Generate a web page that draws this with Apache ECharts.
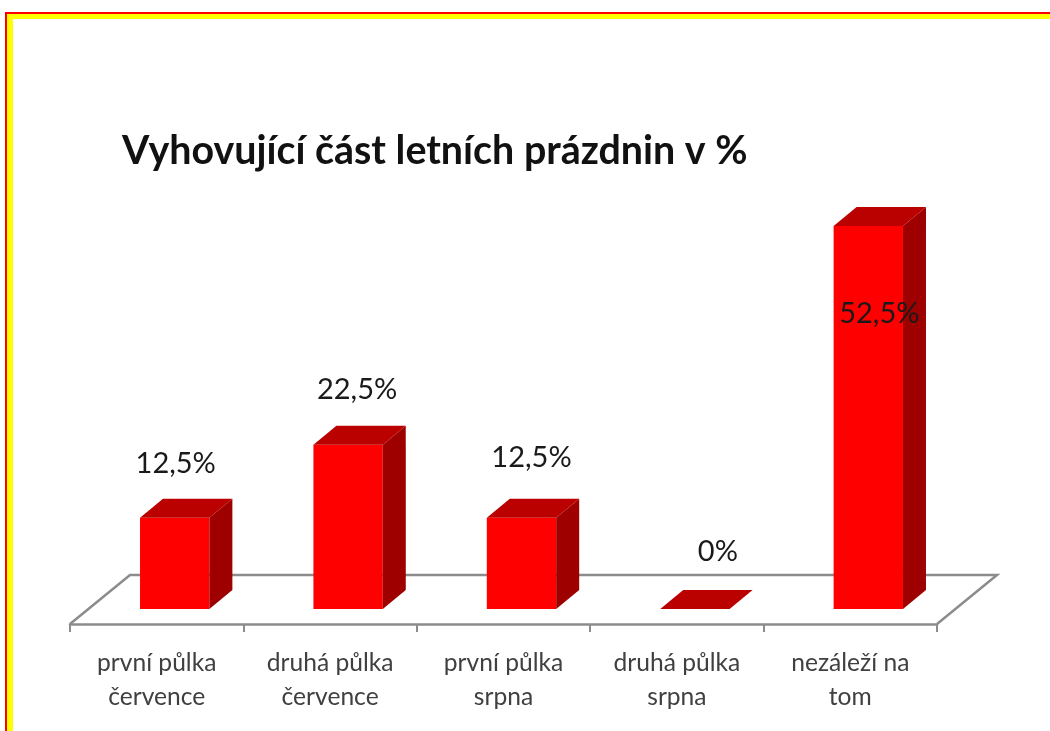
<!DOCTYPE html>
<html>
<head>
<meta charset="utf-8">
<style>
  html, body { margin: 0; padding: 0; background: #fff; }
  #chart { width: 1050px; height: 731px; }
</style>
<script src="https://cdn.jsdelivr.net/npm/echarts@6/dist/echarts.min.js"></script>
</head>
<body>
<div id="chart"></div>
<script>
const categories = [
  'první půlka\nčervence',
  'druhá půlka\nčervence',
  'první půlka\nsrpna',
  'druhá půlka\nsrpna',
  'nezáleží na\ntom'
];
const values = [12.5, 22.5, 12.5, 0, 52.5];
const titleText = 'Vyhovující část letních prázdnin v %';

// hand placed data labels, relative to the front top centre of each bar
const labelShift = [[1, -54], [9, -55], [10, -60], [23, -57], [11, 88]];

const depthX = 23;
const depthY = 19;
const font = 'Lato, "Open Sans", sans-serif';

function renderFloor(params, api) {
  const g = params.coordSys;
  const left = g.x;
  const right = g.x + g.width;
  const front = g.y + g.height + 15;
  const back = front - 49;
  return {
    type: 'polyline',
    shape: { points: [[left, front], [left + 60, back], [right + 60, back], [right, front]] },
    style: { fill: null, stroke: '#8c8c8c', lineWidth: 2.5 },
    silent: true
  };
}

function renderBar(params, api) {
  const idx = api.value(0);
  const val = api.value(1);
  const top = api.coord([idx, val]);
  const base = api.coord([idx, 0]);
  const w = api.size([1, 0])[0] * 0.4;
  const x0 = top[0] + 18 - w / 2;
  const x1 = x0 + w;
  const children = [];
  if (val > 0) {
    children.push({
      type: 'rect',
      shape: { x: x0, y: top[1], width: w, height: base[1] - top[1] },
      style: { fill: '#ff0000' }
    });
    children.push({
      type: 'polygon',
      shape: { points: [[x1, top[1]], [x1 + depthX, top[1] - depthY], [x1 + depthX, base[1] - depthY], [x1, base[1]]] },
      style: { fill: '#9e0000' }
    });
  }
  children.push({
    type: 'polygon',
    shape: { points: [[x0, top[1]], [x1, top[1]], [x1 + depthX, top[1] - depthY], [x0 + depthX, top[1] - depthY]] },
    style: { fill: '#bb0000' }
  });
  const shift = labelShift[params.dataIndex];
  children.push({
    type: 'text',
    z2: 10,
    style: {
      text: String(val).replace('.', ',') + '%',
      x: x0 + w / 2 + shift[0],
      y: top[1] + shift[1],
      align: 'center',
      verticalAlign: 'middle',
      font: '29px ' + font,
      fill: '#1a1a1a'
    }
  });
  return { type: 'group', children: children };
}

const myChart = echarts.init(document.getElementById('chart'), null, { renderer: 'canvas' });
myChart.setOption({
  animation: false,
  backgroundColor: '#fff',
  title: {
    text: titleText,
    left: 122,
    top: 132,
    padding: 0,
    textStyle: { fontFamily: font, fontSize: 39.4, fontWeight: 'bold', color: '#111' }
  },
  grid: { left: 70, right: 113, top: 171.3, height: 437.7 },
  xAxis: {
    type: 'category',
    data: categories,
    offset: 15,
    axisLine: { onZero: false, lineStyle: { color: '#8c8c8c', width: 2.5 } },
    axisTick: { show: true, length: 8, lineStyle: { color: '#8c8c8c', width: 2 } },
    axisLabel: { interval: 0, fontFamily: font, fontSize: 24.6, lineHeight: 34, color: '#404040', margin: 22 }
  },
  yAxis: { type: 'value', min: 0, max: 60, show: false },
  graphic: [
    { type: 'rect', z: -1, shape: { x: 5, y: 12, width: 1045, height: 719 }, style: { fill: '#ff0000' } },
    { type: 'rect', z: -1, shape: { x: 7, y: 14, width: 1043, height: 717 }, style: { fill: '#ffff00' } },
    { type: 'rect', z: -1, shape: { x: 13, y: 19, width: 1037, height: 712 }, style: { fill: '#ffffff' } }
  ],
  series: [
    { type: 'custom', renderItem: renderFloor, data: [0], z: 1, silent: true },
    {
      type: 'custom',
      renderItem: renderBar,
      data: values.map((v, i) => [i, v]),
      encode: { x: 0, y: 1 },
      z: 2,
      silent: true
    }
  ]
});
window.addEventListener('resize', () => {
  if (myChart) {
    myChart.resize();
  }
});
</script>
</body>
</html>
